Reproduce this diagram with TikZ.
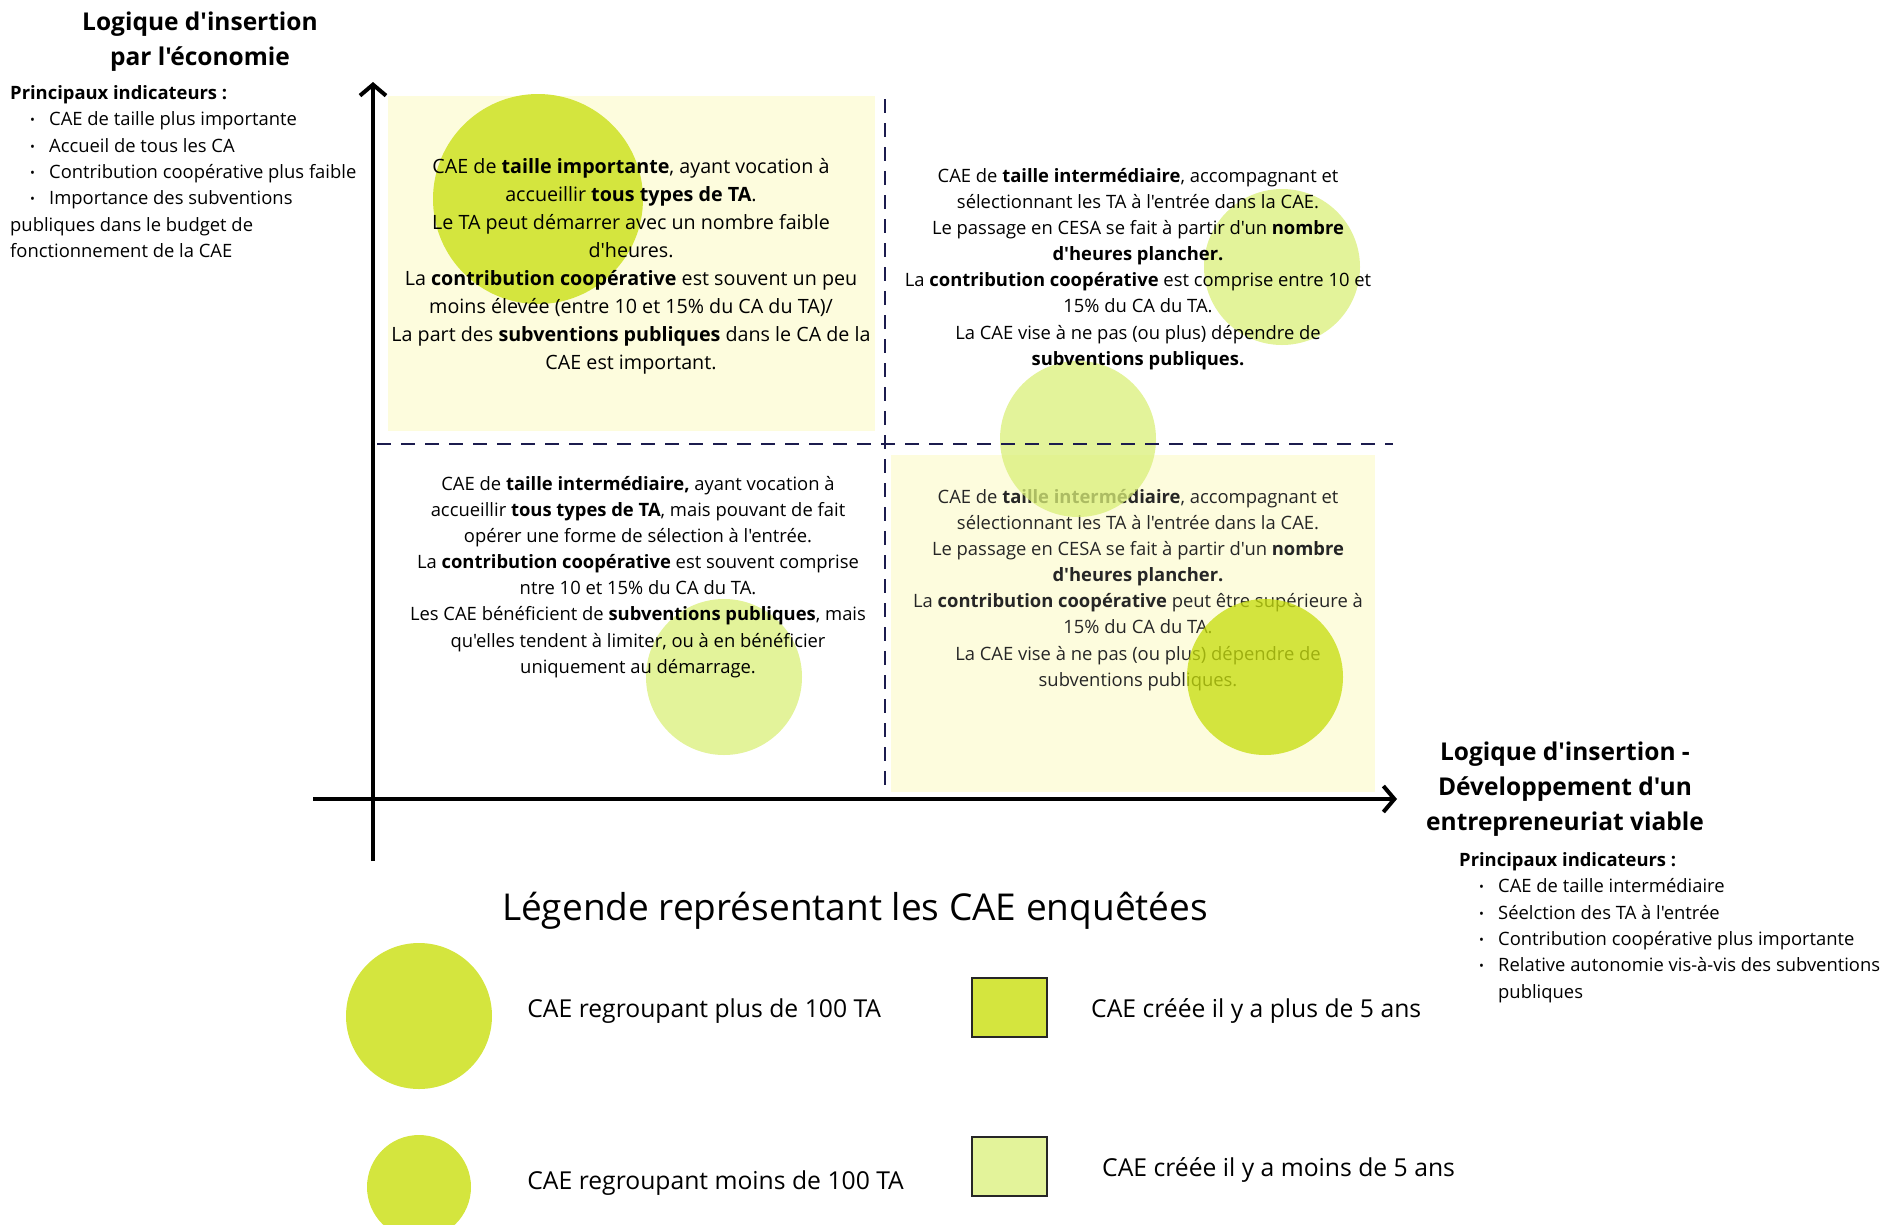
\documentclass[tikz,border=0pt]{standalone}
\usepackage{fontspec}
\setmainfont{Open Sans}[Ligatures=TeXOff]
\usetikzlibrary{positioning,arrows.meta}

\definecolor{vert}{HTML}{D4E53E}
\definecolor{vertclair}{HTML}{E3F39A}
\definecolor{vertfond}{HTML}{C6DD09}
\definecolor{vertclairfond}{HTML}{DAEF78}
\definecolor{jaune}{HTML}{FDFCDD}
\definecolor{marine}{HTML}{1C1C4E}
\newcommand{\puce}{\makebox[19pt][l]{\raisebox{1pt}{\fontsize{13}{13}\selectfont\textbullet}}}

\begin{document}
\begin{tikzpicture}[x=1pt,y=-1pt,
  quad/.style={align=center,inner sep=0pt,font=\fontsize{18.4}{26.1}\selectfont},
  liste/.style={align=left,inner sep=0pt,anchor=north west,font=\fontsize{18.4}{26.3}\selectfont},
  titre/.style={align=center,inner sep=0pt,font=\fontsize{24.5}{35}\selectfont\bfseries},
  leg/.style={inner sep=0pt,font=\fontsize{24.7}{28}\selectfont},
  rond/.style={circle,inner sep=0pt},
  carre/.style={draw=black!85,line width=2pt,minimum width=75pt,minimum height=59pt,inner sep=0pt},
  axe/.style={line width=4pt,-{Straight Barb[length=11pt,width=26pt]}},
  sep/.style={marine,line width=2.5pt,dash pattern=on 14pt off 10pt}]
              \useasboundingbox (0,0) rectangle (1888,1224);

              %fonds
              \fill[jaune] (388,96) rectangle (875,431);
              \fill[jaune] (891,455) rectangle (1375,792);

              \node[rond,fill=vert,minimum size=210pt] (c1) at (538,199) {};
              \node[rond,fill=vertclair,minimum size=156pt] (c2) at (1282,267) {};
              \node[rond,fill=vertclair,minimum size=156pt] (c4) at (724,677) {};

              %bas droite, sous les ronds
              \node[quad,text=black!85] (q4) at (1138,590) {CAE de \textbf{taille intermédiaire}, accompagnant et\\
                sélectionnant les TA à l'entrée dans la CAE.\\
                Le passage en CESA se fait à partir d'un \textbf{nombre}\\
                \textbf{d'heures plancher.}\\
                La \textbf{contribution coopérative} peut être supérieure à\\
                15\% du CA du TA.\\
                La CAE vise à ne pas (ou plus) dépendre de\\
                subventions publiques.};
              \node[rond,fill=vertclairfond,fill opacity=0.75,minimum size=156pt] (c3) at (1078,439) {};
              \node[rond,fill=vertfond,fill opacity=0.75,minimum size=156pt] (c5) at (1265,677) {};

              %separations
              \coordinate (vh) at (885,99);
              \coordinate (vb) at (885,795);
              \coordinate (hg) at (377,444);
              \coordinate (hd) at (1393,444);
              \draw[sep] (vh) -- (vb);
              \draw[sep] (hg) -- (hd);

              %quadrants
              \node[quad,font=\fontsize{19.7}{28}\selectfont] (q1) at (631,266) {CAE de \textbf{taille importante}, ayant vocation à\\
                accueillir \textbf{tous types de TA}.\\
                Le TA peut démarrer avec un nombre faible\\
                d'heures.\\
                La \textbf{contribution coopérative} est souvent un peu\\
                moins élevée (entre 10 et 15\% du CA du TA)/\\
                La part des \textbf{subventions publiques} dans le CA de la\\
                CAE est important.};
              \node[quad] (q2) at (1138,269) {CAE de \textbf{taille intermédiaire}, accompagnant et\\
                sélectionnant les TA à l'entrée dans la CAE.\\
                Le passage en CESA se fait à partir d'un \textbf{nombre}\\
                \textbf{d'heures plancher.}\\
                La \textbf{contribution coopérative} est comprise entre 10 et\\
                15\% du CA du TA.\\
                La CAE vise à ne pas (ou plus) dépendre de\\
                \textbf{subventions publiques.}};
              \node[quad] (q3) at (638,577) {CAE de \textbf{taille intermédiaire,} ayant vocation à\\
                accueillir \textbf{tous types de TA}, mais pouvant de fait\\
                opérer une forme de sélection à l'entrée.\\
                La \textbf{contribution coopérative} est souvent comprise\\
                ntre 10 et 15\% du CA du TA.\\
                Les CAE bénéficient de \textbf{subventions publiques}, mais\\
                qu'elles tendent à limiter, ou à en bénéficier\\
                uniquement au démarrage.};

              %axes
              \coordinate (o1) at (373,861);
              \coordinate (yh) at (373,82);
              \coordinate (o2) at (313,799);
              \coordinate (xd) at (1397,799);
              \draw[axe] (o1) -- (yh);
              \draw[axe] (o2) -- (xd);

              %axe vertical
              \node[titre] (ty) at (200,42) {Logique d'insertion\\par l'économie};
              \node[liste] (ly) at (10,85.5) {{\bfseries Principaux indicateurs :}\\
                \hspace*{20pt}\puce CAE de taille plus importante\\
                \hspace*{20pt}\puce Accueil de tous les CA\\
                \hspace*{20pt}\puce Contribution coopérative plus faible\\
                \hspace*{20pt}\puce Importance des subventions\\
                publiques dans le budget de\\
                fonctionnement de la CAE};

              %axe horizontal
              \node[titre] (tx) at (1565,789) {Logique d'insertion -\\Développement d'un\\entrepreneuriat viable};
              \node[liste] (lx) at (1459,852.5) {{\bfseries Principaux indicateurs :}\\
                \hspace*{20pt}\puce CAE de taille intermédiaire\\
                \hspace*{20pt}\puce Séelction des TA à l'entrée\\
                \hspace*{20pt}\puce Contribution coopérative plus importante\\
                \hspace*{20pt}\puce Relative autonomie vis-à-vis des subventions\\
                \hspace*{39pt}publiques};

              %legende
              \node[inner sep=0pt,font=\fontsize{37}{40}\selectfont] (tl) at (855,911) {Légende représentant les CAE enquêtées};
              \node[rond,fill=vert,minimum size=146pt] (l1) at (419,1016) {};
              \node[leg,right=35pt of l1,yshift=4.5pt] (t1) {CAE regroupant plus de 100 TA};
              \node[rond,fill=vert,minimum size=104pt] (l2) at (419,1187) {};
              \node[leg,right=56pt of l2,yshift=3.5pt] (t2) {CAE regroupant moins de 100 TA};
              \node[carre,fill=vert] (s1) at (1009.5,1007.5) {};
              \node[leg,right=43pt of s1,yshift=-3.5pt] (t3) {CAE créée il y a plus de 5 ans};
              \node[carre,fill=vertclair] (s2) at (1009.5,1166.5) {};
              \node[leg,right=54pt of s2,yshift=-3.5pt] (t4) {CAE créée il y a moins de 5 ans};
            \end{tikzpicture}
\end{document}
